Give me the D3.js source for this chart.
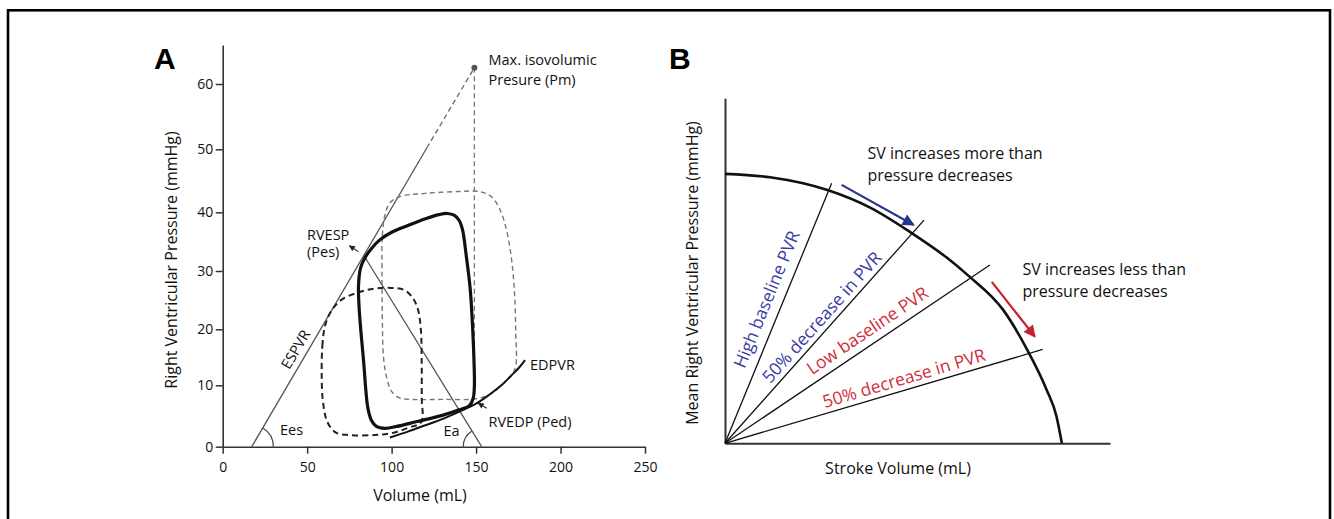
<!DOCTYPE html>
<html><head><meta charset="utf-8">
<script src="https://cdn.jsdelivr.net/npm/d3@7"></script>
<style>
body{margin:0;background:#fff;}
svg{display:block;font-family:"Open Sans",sans-serif;}
</style></head>
<body>
<svg id="chart" width="1334" height="519"></svg>
<script>
// ---------- Panel A data ----------
const volumeTicks = [0, 50, 100, 150, 200, 250];
const pressureTicks = [0, 10, 20, 30, 40, 50, 60];
// solid (baseline) PV loop [volume mL, pressure mmHg]
const loopBaseline = [[84.3,32.3],[88,33.8],[93,35.3],[100,36.6],[110,37.8],[120,38.9],[128,39.6],[133,39.8],[137,39.5],[140,38.6],[142,37],[144,33],[146.5,27],[148,20],[148.8,14],[149,10],[148.3,7.9],[146,6.7],[140,6],[130,5.1],[115,4.1],[103,3.3],[96,3.0],[91,3.3],[88,4.3],[86,6.2],[84.8,9],[83.5,14],[82,19],[80.7,24],[80.4,27.5],[81.6,30.5]];
// black dashed loop
const loopDashedBlack = [[58.6,12],[59,17],[60.5,20.5],[64,23],[70,25],[80,26.3],[90,27],[100,27.1],[107,26.8],[112,25.6],[115.5,23.5],[117.3,20],[117.8,14],[117.8,8],[117.5,4],[110,3.1],[100,2.2],[90,1.9],[75,1.9],[67,2.3],[62,4],[59.3,7.5]];
// gray dashed loop
const loopDashedGray = [[94.3,30],[94.5,36],[96,39.5],[99,41.5],[105,42.5],[120,43],[140,43.3],[152,43.3],[159,42.5],[164,40.5],[168,37],[171,32],[172.8,26],[173.5,19],[173.5,13.5],[171,11.8],[165,10],[158,8.5],[150,7.8],[130,7.7],[112,7.7],[105,7.9],[100,9],[97,11.5],[95.2,15],[94.5,22]];
// end-diastolic pressure-volume relation
const edpvr = [[99,1.5],[110,2.5],[120,3.5],[130,4.5],[140,5.7],[150,7],[158,8.5],[165,10],[171,11.8],[175,13],[179,14.5]];
// ESPVR (solid part, then dashed extension to Pm)
const espvrSolid = [[17.2,0],[120.8,50.2]];
const espvrDashed = [[120.8,50.2],[149,62.5]];
const pmPoint = [149, 62.5];
const pmDrop = [[149,62.5],[149,7.8]];
const eaLine = [[84.3,32.3],[153.3,0]];
const arrowRVESP = [[80.3,33.3],[75,34.3]];
const arrowRVEDP = [[156.3,6.25],[151.3,7.1]];

// ---------- Panel B data ----------
// pressure-SV curve (arbitrary units 0-100)
const pvCurve = [[0,78.1],[11.7,77.1],[26.6,73.4],[37.7,68.3],[48.0,61.3],[57.5,53.9],[63.2,48.6],[72.3,38.6],[78.4,27.3],[83.5,15.6],[86.1,7.8],[87.5,0]];
const pvrLineEnds = [[27.7,75.4],[51.7,64.7],[68.8,51.7],[82.5,27.2]];
const pvrLabels = ["High baseline PVR","50% decrease in PVR","Low baseline PVR","50% decrease in PVR"];
const pvrLabelGroup = ["blue","blue","red","red"];
const arrowBlue = [[30.3,74.9],[49.0,63.3]];
const arrowRed = [[69.3,46.8],[80.5,30.9]];

// ---------- Drawing ----------
const svg = d3.select("#chart");
const COLORS = {blue:"#3c3ca6", red:"#d12e3a", blueArrow:"#26368f", redArrow:"#c8202e"};

// border
svg.append("rect").attr("x",8).attr("y",10.3).attr("width",1322).attr("height",540)
  .attr("fill","none").attr("stroke","#000").attr("stroke-width",2.6);

// markers
const defs = svg.append("defs");
function marker(id, color, w, h){
  defs.append("marker").attr("id",id).attr("viewBox","0 0 10 10").attr("refX",9).attr("refY",5)
    .attr("markerWidth",w).attr("markerHeight",h).attr("markerUnits","userSpaceOnUse").attr("orient","auto")
    .append("path").attr("d","M0,0L10,5L0,10z").attr("fill",color);
}
marker("mBlue", COLORS.blueArrow, 13, 12);
marker("mRed", COLORS.redArrow, 13, 12);
marker("mSmall", "#222", 7, 6);

// ===== Panel A =====
const xA = d3.scaleLinear().domain([0,250]).range([222.7,645]);
const yA = d3.scaleLinear().domain([0,10,20,30,40,50,60,66]).range([446.7,385.3,329.3,271,212.3,149.3,84,45]);
const gA = svg.append("g");
const lineA = d3.line().x(d=>xA(d[0])).y(d=>yA(d[1]));

const axX = gA.append("g").attr("transform",`translate(0,${yA(0)})`)
  .call(d3.axisBottom(xA).tickValues(volumeTicks).tickSize(7).tickSizeOuter(0).tickPadding(8));
const axY = gA.append("g").attr("transform",`translate(${xA(0)},0)`)
  .call(d3.axisLeft(yA).tickValues(pressureTicks).tickSize(7).tickSizeOuter(0).tickPadding(2.5));
[axX,axY].forEach(a=>{
  a.select(".domain").attr("stroke","#333").attr("stroke-width",1.6);
  a.selectAll(".tick line").attr("stroke","#333").attr("stroke-width",1.5);
  a.selectAll(".tick text").attr("font-family","Open Sans").attr("font-size",14).attr("fill","#111");
});

gA.append("text").attr("x",420).attr("y",500.5).attr("text-anchor","middle").attr("font-size",16).attr("fill","#111").text("Volume (mL)");
gA.append("text").attr("transform","translate(177,260) rotate(-90)").attr("text-anchor","middle").attr("font-size",16).attr("fill","#111").text("Right Ventricular Pressure (mmHg)");
svg.append("text").attr("x",154).attr("y",69.3).attr("font-family","Liberation Sans").attr("font-weight","bold").attr("font-size",30).attr("fill","#000").text("A");

// relation lines
gA.append("path").attr("d",lineA(espvrSolid)).attr("fill","none").attr("stroke","#555").attr("stroke-width",1.3);
gA.append("path").attr("d",lineA(espvrDashed)).attr("fill","none").attr("stroke","#666").attr("stroke-width",1.3).attr("stroke-dasharray","5,3.5");
gA.append("path").attr("d",lineA(pmDrop)).attr("fill","none").attr("stroke","#777").attr("stroke-width",1.3).attr("stroke-dasharray","5,3.5");
gA.append("path").attr("d",lineA(eaLine)).attr("fill","none").attr("stroke","#555").attr("stroke-width",1.3);
gA.append("circle").attr("cx",xA(pmPoint[0])).attr("cy",yA(pmPoint[1])).attr("r",3).attr("fill","#555");

// loops
const closed = d3.line().x(d=>xA(d[0])).y(d=>yA(d[1])).curve(d3.curveCatmullRomClosed.alpha(0.5));
gA.append("path").attr("d",closed(loopDashedGray)).attr("fill","none").attr("stroke","#777").attr("stroke-width",1.4).attr("stroke-dasharray","5,3.5");
gA.append("path").attr("d",closed(loopDashedBlack)).attr("fill","none").attr("stroke","#222").attr("stroke-width",2).attr("stroke-dasharray","6,4");
gA.append("path").attr("d",closed(loopBaseline)).attr("fill","none").attr("stroke","#111").attr("stroke-width",3.2);
gA.append("path").attr("d",d3.line().x(d=>xA(d[0])).y(d=>yA(d[1])).curve(d3.curveCatmullRom)(edpvr))
  .attr("fill","none").attr("stroke","#111").attr("stroke-width",2);

// angle arcs
function angleOf(seg){ return Math.atan2(yA(seg[1][1])-yA(seg[0][1]), xA(seg[1][0])-xA(seg[0][0])); }
const thE = angleOf(espvrSolid);
const pE = d3.path(); const cxE = xA(espvrSolid[0][0]), cyE = yA(0), rE = 21.6;
pE.moveTo(cxE+rE, cyE); pE.arc(cxE, cyE, rE, 0, thE, true);
gA.append("path").attr("d",pE.toString()).attr("fill","none").attr("stroke","#444").attr("stroke-width",1.2);
const thA = Math.atan2(yA(eaLine[0][1])-yA(eaLine[1][1]), xA(eaLine[0][0])-xA(eaLine[1][0]));
const pAr = d3.path(); const cxA = xA(eaLine[1][0]), rA = 18.4;
pAr.moveTo(cxA-rA, cyE); pAr.arc(cxA, cyE, rA, Math.PI, thA + 2*Math.PI, false);
gA.append("path").attr("d",pAr.toString()).attr("fill","none").attr("stroke","#444").attr("stroke-width",1.2);

// small arrows
[arrowRVESP, arrowRVEDP].forEach(a=>{
  gA.append("path").attr("d",lineA(a)).attr("stroke","#222").attr("stroke-width",1.1).attr("fill","none").attr("marker-end","url(#mSmall)");
});

// annotations panel A
const annA = [
  {t:"Max. isovolumic", x:488.5, y:65},
  {t:"Presure (Pm)", x:488.5, y:85},
  {t:"RVESP", x:307, y:240},
  {t:"(Pes)", x:307, y:257},
  {t:"EDPVR", x:530, y:370},
  {t:"RVEDP (Ped)", x:488.5, y:426.5},
  {t:"Ees", x:280, y:435},
  {t:"Ea", x:443.5, y:436}
];
annA.forEach(a=>gA.append("text").attr("x",a.x).attr("y",a.y).attr("font-size",14.5).attr("fill","#111").text(a.t));
const espDeg = thE*180/Math.PI;
gA.append("text").attr("transform",`translate(300,352) rotate(${espDeg})`).attr("text-anchor","middle")
  .attr("font-size",14.5).attr("fill","#111").text("ESPVR");

// ===== Panel B =====
const xB = d3.scaleLinear().domain([0,100]).range([725,1110]);
const yB = d3.scaleLinear().domain([0,100]).range([443.3,98.3]);
const gB = svg.append("g");
const lineB = d3.line().x(d=>xB(d[0])).y(d=>yB(d[1]));
const axXB = gB.append("g").attr("transform",`translate(0,${yB(0)})`).call(d3.axisBottom(xB).tickValues([]).tickSizeOuter(0));
const axYB = gB.append("g").attr("transform",`translate(${xB(0)},0)`).call(d3.axisLeft(yB).tickValues([]).tickSizeOuter(0));
[axXB,axYB].forEach(a=>a.select(".domain").attr("stroke","#333").attr("stroke-width",2));

svg.append("text").attr("x",669).attr("y",69.3).attr("font-family","Liberation Sans").attr("font-weight","bold").attr("font-size",30).attr("fill","#000").text("B");
gB.append("text").attr("x",898).attr("y",474).attr("text-anchor","middle").attr("font-size",16).attr("fill","#111").text("Stroke Volume (mL)");
gB.append("text").attr("transform","translate(698,273) rotate(-90)").attr("text-anchor","middle").attr("font-size",16).attr("fill","#111").text("Mean Right Ventricular Pressure (mmHg)");

// PVR lines
pvrLineEnds.forEach(e=>{
  gB.append("path").attr("d",lineB([[0,0],e])).attr("stroke","#111").attr("stroke-width",1.3).attr("fill","none");
});
// curve
gB.append("path").attr("d",d3.line().x(d=>xB(d[0])).y(d=>yB(d[1])).curve(d3.curveMonotoneX)(pvCurve))
  .attr("fill","none").attr("stroke","#111").attr("stroke-width",2.6);

// rotated labels
const labelT = [0.53,0.53,0.567,0.574];
const labelOff = [10,5.5,7.8,5.5];
pvrLineEnds.forEach((e,i)=>{
  const ox=xB(0), oy=yB(0), ex=xB(e[0]), ey=yB(e[1]);
  const ang = Math.atan2(ey-oy, ex-ox)*180/Math.PI;
  const px = ox + labelT[i]*(ex-ox), py = oy + labelT[i]*(ey-oy);
  gB.append("text").attr("transform",`translate(${px},${py}) rotate(${ang})`).attr("y",-labelOff[i])
    .attr("text-anchor","middle").attr("font-size",17.5).attr("fill",COLORS[pvrLabelGroup[i]]).text(pvrLabels[i]);
});

// arrows
gB.append("path").attr("d",lineB(arrowBlue)).attr("stroke",COLORS.blueArrow).attr("stroke-width",2.2).attr("fill","none").attr("marker-end","url(#mBlue)");
gB.append("path").attr("d",lineB(arrowRed)).attr("stroke",COLORS.redArrow).attr("stroke-width",2.2).attr("fill","none").attr("marker-end","url(#mRed)");

const annB = [
  {t:"SV increases more than", x:867.5, y:158.5},
  {t:"pressure decreases", x:867.5, y:180.5},
  {t:"SV increases less than", x:1022.5, y:275},
  {t:"pressure decreases", x:1022.5, y:297}
];
annB.forEach(a=>gB.append("text").attr("x",a.x).attr("y",a.y).attr("font-size",16).attr("fill","#111").text(a.t));
</script>
</body></html>
